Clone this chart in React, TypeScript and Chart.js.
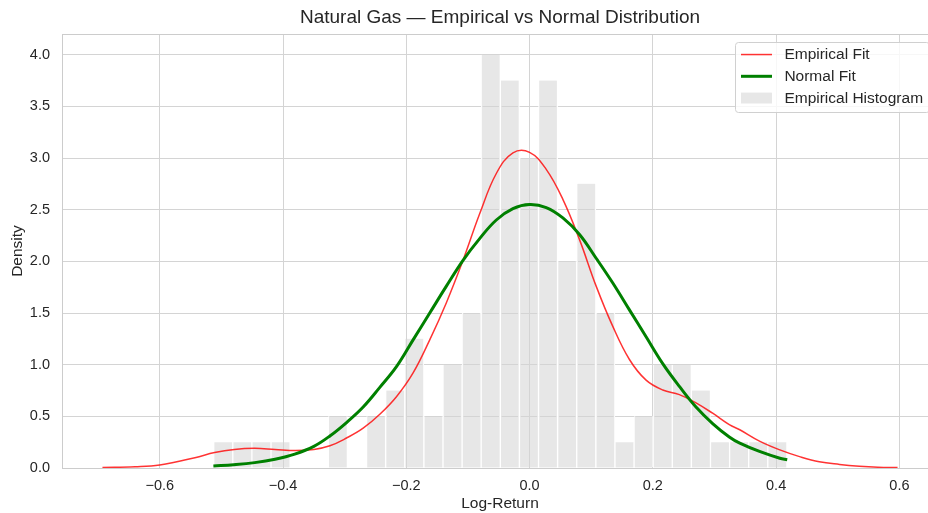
import React, { useEffect, useRef } from 'react';
import { Chart, registerables } from 'chart.js';

Chart.register(...registerables);

// ---------- text ----------
const TITLE = 'Natural Gas — Empirical vs Normal Distribution';
const X_LABEL = 'Log-Return';
const Y_LABEL = 'Density';
const LABEL_KDE = 'Empirical Fit';
const LABEL_NORMAL = 'Normal Fit';
const LABEL_HIST = 'Empirical Histogram';

// ---------- histogram (bin centers, density) ----------
const binCenters = [
  -0.497, -0.466, -0.435, -0.404, -0.373, -0.342, -0.311, -0.28, -0.249, -0.218,
  -0.187, -0.156, -0.125, -0.094, -0.063, -0.032, -0.001, 0.03, 0.061, 0.092,
  0.123, 0.154, 0.185, 0.216, 0.247, 0.278, 0.309, 0.34, 0.371, 0.402,
];
const binDensity = [
  0.25, 0.25, 0.25, 0.25, 0, 0, 0.5, 0, 0.5, 0.75,
  1.25, 0.5, 1.0, 1.5, 4.0, 3.75, 3.0, 3.75, 2.0, 2.75,
  1.5, 0.25, 0.5, 1.0, 1.0, 0.75, 0.25, 0.25, 0.25, 0.25,
];

// ---------- empirical (KDE) fit ----------
const kdeX = [
  -0.693, -0.64, -0.6, -0.543, -0.511, -0.479, -0.446, -0.413, -0.38, -0.35, -0.324,
  -0.297, -0.27, -0.243, -0.216, -0.189, -0.162, -0.135, -0.108, -0.081, -0.054,
  -0.027, 0.0, 0.027, 0.054, 0.081, 0.108, 0.135, 0.162, 0.189,
  0.216, 0.243, 0.27, 0.297, 0.324, 0.341, 0.373, 0.406, 0.438, 0.47,
  0.503, 0.535, 0.565, 0.597,
];
const kdeY = [
  0.004, 0.012, 0.03, 0.1, 0.15, 0.18, 0.19, 0.18, 0.17, 0.18, 0.215,
  0.29, 0.385, 0.52, 0.69, 0.92, 1.24, 1.6, 2.01, 2.46, 2.85,
  3.05, 3.055, 2.89, 2.6, 2.21, 1.76, 1.37, 1.05, 0.85,
  0.755, 0.71, 0.63, 0.53, 0.42, 0.37, 0.26, 0.175, 0.11, 0.06,
  0.035, 0.018, 0.008, 0.004,
];

// ---------- normal fit ----------
const normalX = [
  -0.513, -0.48, -0.446, -0.413, -0.381, -0.35, -0.324, -0.297, -0.27, -0.243, -0.216,
  -0.189, -0.162, -0.135, -0.108, -0.081, -0.054, -0.027, 0.0, 0.027, 0.054,
  0.081, 0.108, 0.135, 0.162, 0.189, 0.216, 0.243, 0.27, 0.297, 0.324,
  0.341, 0.373, 0.406, 0.418,
];
const normalY = [
  0.02, 0.032, 0.052, 0.085, 0.135, 0.21, 0.31, 0.44, 0.59, 0.78, 0.98,
  1.24, 1.5, 1.76, 2.01, 2.22, 2.4, 2.51, 2.55, 2.52, 2.42,
  2.26, 2.03, 1.79, 1.53, 1.27, 1.01, 0.79, 0.59, 0.43, 0.3,
  0.24, 0.16, 0.094, 0.08,
];

// ---------- axes ----------
const xTicks = [-0.6, -0.4, -0.2, 0, 0.2, 0.4, 0.6];
const yTicks = [0, 0.5, 1.0, 1.5, 2.0, 2.5, 3.0, 3.5, 4.0];
const X_MIN = -0.757;
const X_MAX = 0.661;
const Y_MIN = 0;
const Y_MAX = 4.2;

// ---------- style ----------
const FONT = "'Liberation Sans', Arial, 'DejaVu Sans', sans-serif";
const TEXT = '#262626';
const GRID = '#d4d4d4';
const SPINE = '#cccccc';
const RED = 'rgba(255, 0, 0, 0.8)';
const GREEN = '#008000';
const BAR = 'rgba(211, 211, 211, 0.55)';

const fmtMinus = (v: number) => (v < -1e-9 ? '\u2212' + (-v).toFixed(1) : Math.abs(v).toFixed(1));

const framePlugin = {
  id: 'frame',
  afterDatasetsDraw(chart: any) {
    const { ctx, chartArea } = chart;
    ctx.save();
    ctx.strokeStyle = SPINE;
    ctx.lineWidth = 1;
    const l = Math.round(chartArea.left) - 0.5;
    const t = Math.round(chartArea.top) + 0.5;
    const r = Math.round(chartArea.right) - 0.5;
    const b = Math.round(chartArea.bottom) + 0.5;
    ctx.strokeRect(l, t, r - l, b - t);
    ctx.restore();
  },
};

const legendPlugin = {
  id: 'mplLegend',
  afterDatasetsDraw(chart: any) {
    const { ctx, chartArea } = chart;
    const F = 15.5;
    const pad = 0.4 * F;
    const handleLen = 2 * F;
    const handleTextPad = 0.8 * F;
    const axesPad = 0.5 * F;
    const pitch = 21.75;
    const firstOff = 12.8;
    const lastOff = 13.6;
    const items = chart.data.datasets;
    ctx.save();
    ctx.font = `${F}px ${FONT}`;
    let textW = 0;
    items.forEach((d: any) => {
      textW = Math.max(textW, ctx.measureText(d.label).width);
    });
    const boxW = pad + handleLen + handleTextPad + textW + pad;
    const boxH = firstOff + (items.length - 1) * pitch + lastOff;
    const right = chartArea.right - axesPad;
    const left = right - boxW;
    const top = chartArea.top + axesPad;

    ctx.beginPath();
    (ctx as any).roundRect(Math.round(left) + 0.5, Math.round(top) + 0.5, Math.round(boxW), Math.round(boxH), 3);
    ctx.fillStyle = 'rgba(255,255,255,0.8)';
    ctx.fill();
    ctx.strokeStyle = '#d0d0d0';
    ctx.lineWidth = 1;
    ctx.stroke();

    items.forEach((d: any, i: number) => {
      const y = top + firstOff + i * pitch;
      const hx = left + pad;
      if (d.type === 'bar') {
        const h = 0.7 * F;
        ctx.fillStyle = d.backgroundColor;
        ctx.fillRect(hx, y - h / 2, handleLen, h);
      } else {
        ctx.beginPath();
        ctx.moveTo(hx, y);
        ctx.lineTo(hx + handleLen, y);
        ctx.strokeStyle = d.borderColor;
        ctx.lineWidth = d.borderWidth;
        ctx.stroke();
      }
      ctx.fillStyle = TEXT;
      ctx.textAlign = 'left';
      ctx.textBaseline = 'middle';
      ctx.fillText(d.label, hx + handleLen + handleTextPad, y + 0.5);
    });
    ctx.restore();
  },
};

export default function App() {
  const canvasRef = useRef<HTMLCanvasElement | null>(null);

  useEffect(() => {
    const canvas = canvasRef.current;
    if (!canvas) return;
    const chart = new Chart(canvas, {
      type: 'bar',
      data: {
        datasets: [
          {
            type: 'line',
            label: LABEL_KDE,
            data: kdeX.map((x, i) => ({ x, y: kdeY[i] })),
            borderColor: RED,
            borderWidth: 1.5,
            pointRadius: 0,
            fill: false,
            tension: 0.4,
            yAxisID: 'y',
            order: 1,
          } as any,
          {
            type: 'line',
            label: LABEL_NORMAL,
            data: normalX.map((x, i) => ({ x, y: normalY[i] })),
            borderColor: GREEN,
            borderWidth: 3,
            pointRadius: 0,
            fill: false,
            tension: 0.4,
            yAxisID: 'y',
            order: 0,
          } as any,
          {
            type: 'bar',
            label: LABEL_HIST,
            data: binCenters.map((x, i) => ({ x, y: binDensity[i] })),
            backgroundColor: BAR,
            borderColor: '#ffffff',
            borderWidth: { left: 1, right: 1, top: 0, bottom: 0 },
            borderSkipped: false,
            barPercentage: 1,
            categoryPercentage: 1,
            grouped: false,
            yAxisID: 'y',
            order: 2,
          } as any,
        ],
      },
      options: {
        responsive: false,
        maintainAspectRatio: false,
        animation: false,
        devicePixelRatio: 1,
        events: [],
        layout: { padding: 0 },
        plugins: {
          legend: { display: false },
          tooltip: { enabled: false },
          title: {
            display: true,
            text: TITLE,
            color: TEXT,
            font: { family: FONT, size: 19, weight: 'normal' },
            padding: { top: 6, bottom: 5.2 },
          },
        },
        scales: {
          x: {
            type: 'linear',
            min: X_MIN,
            max: X_MAX,
            offset: false,
            grid: { color: GRID, lineWidth: 1, drawTicks: false, offset: false },
            border: { display: false },
            ticks: {
              color: TEXT,
              font: { family: FONT, size: 14.5 },
              padding: 9,
              autoSkip: false,
              maxRotation: 0,
              minRotation: 0,
              callback: (v: any) => fmtMinus(Number(v)),
            },
            title: {
              display: true,
              text: X_LABEL,
              color: TEXT,
              font: { family: FONT, size: 15.5 },
              padding: { top: 0, bottom: 0 },
            },
            afterBuildTicks: (s: any) => {
              s.ticks = xTicks.map((v) => ({ value: v }));
            },
            afterFit: (s: any) => {
              s.height = 45;
            },
          },
          y: {
            type: 'linear',
            position: 'left',
            min: Y_MIN,
            max: Y_MAX,
            grid: { color: GRID, lineWidth: 1, drawTicks: false },
            border: { display: false },
            ticks: {
              color: TEXT,
              font: { family: FONT, size: 14.5 },
              padding: 13,
              callback: (v: any) => Number(v).toFixed(1),
            },
            title: {
              display: true,
              text: Y_LABEL,
              color: TEXT,
              font: { family: FONT, size: 15.5 },
              padding: { top: 8, bottom: 0 },
            },
            afterBuildTicks: (s: any) => {
              s.ticks = yTicks.map((v) => ({ value: v }));
            },
            afterFit: (s: any) => {
              s.width = 63;
            },
          },
          rightPad: {
            type: 'linear',
            position: 'right',
            display: true,
            min: Y_MIN,
            max: Y_MAX,
            grid: { display: false, drawTicks: false },
            border: { display: false },
            ticks: { display: false },
            afterFit: (s: any) => {
              s.width = 63;
            },
          },
        },
      } as any,
      plugins: [framePlugin, legendPlugin],
    });
    return () => chart.destroy();
  }, []);

  return (
    <div
      style={{
        position: 'fixed',
        left: 0,
        top: 0,
        width: 928,
        height: 513,
        overflow: 'hidden',
        background: '#ffffff',
      }}
    >
      <canvas ref={canvasRef} width={1000} height={513} style={{ display: 'block', width: 1000, height: 513 }} />
    </div>
  );
}
